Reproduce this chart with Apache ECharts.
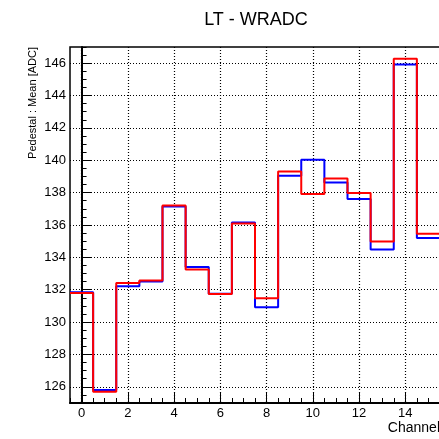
<!DOCTYPE html>
<html><head><meta charset="utf-8">
<script src="https://cdn.jsdelivr.net/npm/echarts@6/dist/echarts.min.js"></script>
<style>html,body{margin:0;padding:0;background:#fff}#c{width:439px;height:439px}</style>
</head><body><div id="c"></div>
<script>
const channels = [0,1,2,3,4,5,6,7,8,9,10,11,12,13,14,15];
const redValues = [131.8,125.7,132.41,132.57,137.2,133.25,131.73,136.09,131.48,139.31,137.91,138.87,137.97,134.98,146.27,135.46];
const blueValues = [131.85,125.81,132.22,132.51,137.15,133.4,131.75,136.15,130.92,139.04,140.03,138.63,137.6,134.49,145.92,135.2];
const xTickLabels = [0,2,4,6,8,10,12,14];
const yTickLabels = [126,128,130,132,134,136,138,140,142,144,146];

function steps(vals){
  const pts=[];
  channels.forEach((c,i)=>{pts.push([c-0.5,vals[i]]);pts.push([c+0.5,vals[i]]);});
  return pts;
}
const font = 'Liberation Sans, Arial, Helvetica, sans-serif';
const dotted = {color:'#000', width:1.2, type:[1,2]};
const chart = echarts.init(document.getElementById('c'), null, {renderer:'canvas'});
chart.setOption({
  animation:false,
  backgroundColor:'#fff',
  title:{text:'LT - WRADC', left:251, top:6, textAlign:'center',
    textStyle:{fontFamily:font, fontSize:18, fontWeight:'normal', color:'#000'}},
  grid:{left:70, right:-1, top:47, bottom:36, show:true, borderColor:'#000', borderWidth:1.5, containLabel:false, outerBoundsMode:'none'},
  xAxis:[
    {type:'value', min:-0.5, max:15.5, interval:0.5, position:'bottom',
     axisLine:{show:true, lineStyle:{color:'#000', width:2}},
     axisTick:{show:true, inside:true, length:5, lineStyle:{color:'#000', width:1}},
     axisLabel:{show:false}, splitLine:{show:false}},
    {type:'value', min:-0.5, max:15.5, position:'bottom',
     axisLine:{show:false},
     axisTick:{show:true, inside:true, length:10, customValues:xTickLabels, lineStyle:{color:'#000', width:1}},
     axisLabel:{show:true, customValues:xTickLabels, margin:4, fontFamily:font, fontSize:13, color:'#000'},
     splitLine:{show:true, lineStyle:dotted},
     name:'Channel', nameLocation:'end', nameGap:0, nameMoveOverlap:false,
     nameTextStyle:{fontFamily:font, fontSize:14, color:'#000', align:'right', verticalAlign:'top', padding:[18,0,0,0]}}
  ],
  yAxis:[
    {type:'value', min:125, max:147, interval:0.5, position:'left',
     axisLine:{show:true, lineStyle:{color:'#000', width:2}},
     axisTick:{show:true, inside:true, length:5, lineStyle:{color:'#000', width:1}},
     axisLabel:{show:false}, splitLine:{show:false}},
    {type:'value', min:125, max:147, position:'left',
     axisLine:{show:false},
     axisTick:{show:true, inside:true, length:10, customValues:yTickLabels, lineStyle:{color:'#000', width:1}},
     axisLabel:{show:true, customValues:yTickLabels, margin:4, fontFamily:font, fontSize:13, color:'#000'},
     splitLine:{show:true, lineStyle:dotted},
     name:'Pedestal : Mean [ADC]', nameLocation:'end', nameGap:0, nameRotate:90, nameMoveOverlap:false,
     nameTextStyle:{fontFamily:font, fontSize:11, color:'#000', align:'right', verticalAlign:'bottom', padding:[0,0,43,0]}}
  ],
  series:[
    {type:'line', name:'blue', xAxisIndex:0, yAxisIndex:0, data:steps(blueValues), symbol:'none',
     lineStyle:{color:'#0000ff', width:2}, z:3},
    {type:'line', name:'red', xAxisIndex:0, yAxisIndex:0, data:steps(redValues), symbol:'none',
     lineStyle:{color:'#ff0000', width:2}, z:4}
  ]
});
</script></body></html>
